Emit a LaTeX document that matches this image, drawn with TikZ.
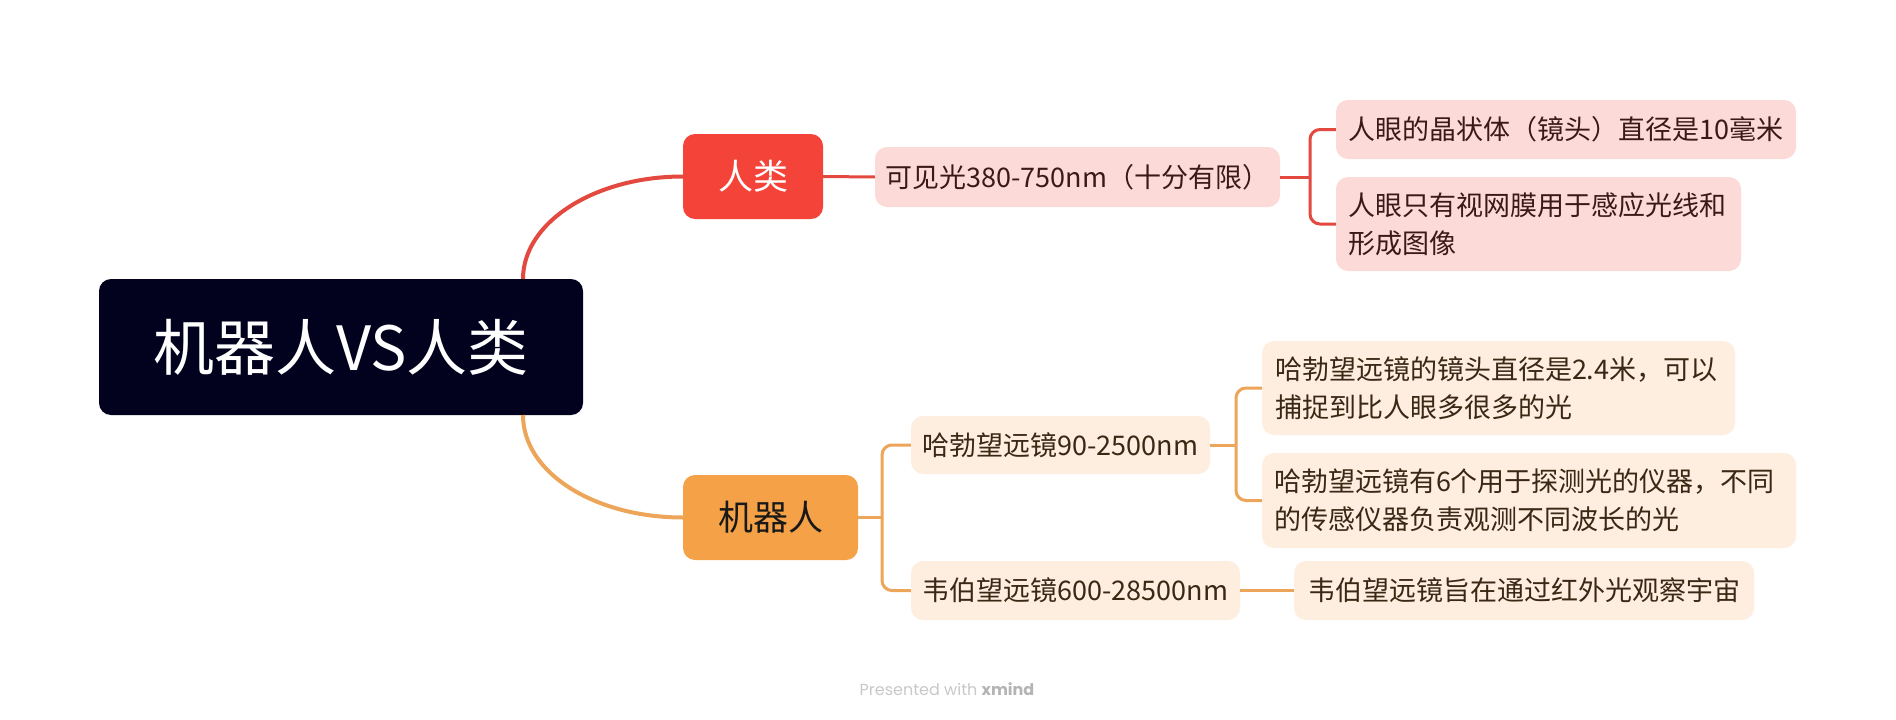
\documentclass[tikz,border=0pt]{standalone}
\usepackage{fontspec}
\setmainfont{Noto Sans CJK SC}
\newfontfamily\footfont{Poppins}
\definecolor{rootfill}{HTML}{02021F}
\definecolor{redfill}{HTML}{F4443A}
\definecolor{redline}{HTML}{E4493F}
\definecolor{pinkfill}{HTML}{FCDAD8}
\definecolor{pinktext}{HTML}{3A1A18}
\definecolor{orfill}{HTML}{F4A147}
\definecolor{orline}{HTML}{EDA559}
\definecolor{peachfill}{HTML}{FDEEDF}
\definecolor{peachtext}{HTML}{3A2714}
\definecolor{foottext}{HTML}{C8C8C8}
\definecolor{footbold}{HTML}{B4B4B4}
\begin{document}
\begin{tikzpicture}[x=1pt,y=-1pt,
  box/.style={rectangle, rounded corners=12, inner sep=0pt, draw=none},
  rootbox/.style={box, fill=rootfill, text=white, font=\fontsize{61}{70}\selectfont},
  mainred/.style={box, fill=redfill, text=white, font=\fontsize{35}{42}\selectfont},
  mainor/.style={box, fill=orfill, text=black!90, font=\fontsize{35}{42}\selectfont},
  pinkbox/.style={box, fill=pinkfill, text=pinktext, font=\fontsize{27}{38}\selectfont},
  peachbox/.style={box, fill=peachfill, text=peachtext, font=\fontsize{27}{38}\selectfont},
  redcurve/.style={draw=redline, line width=4pt},
  orcurve/.style={draw=orline, line width=4pt},
  redlink/.style={draw=redline, line width=3pt, rounded corners=10},
  orlink/.style={draw=orline, line width=3pt, rounded corners=10}]
\useasboundingbox[fill=white] (0,0) rectangle (1896,720);

% nodes
\node[rootbox, minimum width=484, minimum height=136] (root) at (341,347) {机器人VS人类};
\node[mainred, minimum width=140, minimum height=85] (human) at (753,176.5) {人类};
\node[pinkbox, minimum width=405, minimum height=60] (visible) at (1077.5,177) {可见光380-750nm（十分有限）};
\node[pinkbox, minimum width=460, minimum height=59] (h1) at (1566,129.5) {人眼的晶状体（镜头）直径是10毫米};
\node[pinkbox, minimum width=405, minimum height=94, text width=381, align=left] (h2) at (1538.5,224) {人眼只有视网膜用于感应光线和\\形成图像};

\node[mainor, minimum width=175, minimum height=85] (robot) at (770.5,517.5) {机器人};
\node[peachbox, minimum width=299, minimum height=58] (hubble) at (1060.5,445) {哈勃望远镜90-2500nm};
\node[peachbox, minimum width=329, minimum height=59] (webb) at (1075.5,590.5) {韦伯望远镜600-28500nm};
\node[peachbox, minimum width=473, minimum height=94, text width=447, align=left] (ha) at (1498.5,388) {哈勃望远镜的镜头直径是2.4米，可以\\捕捉到比人眼多很多的光};
\node[peachbox, minimum width=534, minimum height=95, text width=510, align=left] (hb) at (1529,500.5) {哈勃望远镜有6个用于探测光的仪器，不同\\的传感仪器负责观测不同波长的光};
\node[peachbox, minimum width=460, minimum height=59] (wa) at (1524,590.5) {韦伯望远镜旨在通过红外光观察宇宙};

% junction points
\coordinate (rtop) at (523,279);
\coordinate (rbot) at (523,415);
\coordinate (j1) at (1310,177);
\coordinate (j2) at (882,517.5);
\coordinate (j3) at (1236,445);

% connectors
\path[redcurve] (rtop) .. controls (523,222) and (595,176.5) .. (human.west);
\path[orcurve] (rbot) .. controls (523,473) and (595,517.5) .. (robot.west);

\path[redlink] (human.east) -- (visible.west);
\path[redlink] (visible.east) -- (j1);
\path[redlink] (h1.west) -| (j1) |- (h2.west);

\path[orlink] (robot.east) -- (j2);
\path[orlink] (hubble.west) -| (j2) |- (webb.west);
\path[orlink] (hubble.east) -- (j3);
\path[orlink] (ha.west) -| (j3) |- (hb.west);
\path[orlink] (webb.east) -- (wa.west);

% footer
\node[font=\footfont\fontsize{16}{19}\selectfont, text=foottext] (foot) at (947,689) {Presented with \textcolor{footbold}{\bfseries xmind}};
\end{tikzpicture}
\end{document}
